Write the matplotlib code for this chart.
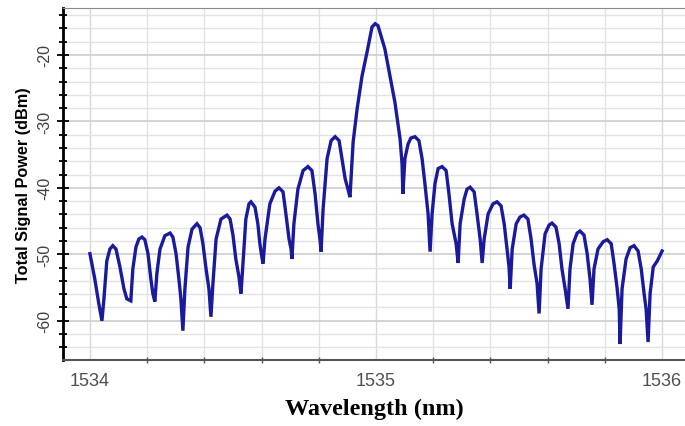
import numpy as np
import matplotlib.pyplot as plt
from matplotlib.ticker import MultipleLocator

# Wavelength (nm) and total signal power (dBm)
wavelength = [
    1534.000, 1534.017, 1534.031, 1534.042,
    1534.049, 1534.059, 1534.070, 1534.080, 1534.091, 1534.105, 1534.119, 1534.129, 1534.143,
    1534.150, 1534.161, 1534.171, 1534.182, 1534.192, 1534.203, 1534.213, 1534.220, 1534.227,
    1534.234, 1534.245, 1534.262, 1534.280, 1534.290, 1534.301, 1534.311, 1534.318, 1534.325,
    1534.332, 1534.343, 1534.357, 1534.374, 1534.385, 1534.395, 1534.406, 1534.416, 1534.423,
    1534.430, 1534.441, 1534.458, 1534.479, 1534.490, 1534.500, 1534.510, 1534.521, 1534.528,
    1534.535, 1534.545, 1534.556, 1534.563, 1534.577, 1534.587, 1534.594, 1534.601, 1534.605,
    1534.612, 1534.629, 1534.647, 1534.661, 1534.675, 1534.685, 1534.696, 1534.703, 1534.706,
    1534.713, 1534.727, 1534.745, 1534.762, 1534.776, 1534.787, 1534.797, 1534.804, 1534.808,
    1534.815, 1534.829, 1534.843, 1534.857, 1534.871, 1534.881, 1534.892, 1534.902, 1534.909,
    1534.920, 1534.934, 1534.951, 1534.969, 1534.986, 1534.997, 1535.007, 1535.031, 1535.049,
    1535.066, 1535.084, 1535.091, 1535.094,
    1535.101, 1535.112, 1535.122, 1535.136, 1535.150, 1535.161, 1535.171, 1535.182, 1535.189,
    1535.196, 1535.206, 1535.217, 1535.231, 1535.245, 1535.255, 1535.266, 1535.280, 1535.287,
    1535.294, 1535.308, 1535.318, 1535.329, 1535.343, 1535.353, 1535.364, 1535.371,
    1535.378, 1535.392, 1535.409, 1535.423, 1535.437, 1535.448, 1535.458, 1535.465, 1535.469,
    1535.476, 1535.490, 1535.503, 1535.517, 1535.531, 1535.542, 1535.552, 1535.563, 1535.570,
    1535.577, 1535.591, 1535.605, 1535.615, 1535.629, 1535.640, 1535.650, 1535.661, 1535.671,
    1535.678, 1535.689, 1535.703, 1535.713, 1535.727, 1535.738, 1535.748, 1535.755,
    1535.762, 1535.776, 1535.794, 1535.808, 1535.822, 1535.832, 1535.843, 1535.850, 1535.853,
    1535.860, 1535.874, 1535.888, 1535.902, 1535.916, 1535.927, 1535.937, 1535.944, 1535.951,
    1535.958, 1535.969, 1535.983, 1536.000,
]
power = [
    -49.9, -53.7, -57.4, -60.0,
    -56.7, -51.0, -49.2, -48.7, -49.2, -51.9, -55.2, -56.7, -57.0,
    -52.2, -48.9, -47.7, -47.4, -47.8, -49.9, -53.7, -55.9, -57.1,
    -52.9, -49.2, -47.2, -46.8, -47.4, -49.9, -53.7, -56.7, -61.5,
    -55.2, -48.9, -46.2, -45.4, -46.0, -48.4, -52.2, -55.2, -59.4,
    -54.4, -47.7, -44.7, -44.1, -44.7, -47.1, -50.7, -53.4, -55.9,
    -51.4, -44.7, -42.4, -42.1, -42.9, -45.4, -48.4, -50.4, -51.4,
    -47.7, -42.4, -40.5, -40.0, -40.6, -43.9, -47.7, -49.2, -50.7,
    -45.4, -40.2, -37.4, -36.8, -37.4, -40.9, -45.4, -47.7, -49.6,
    -43.2, -35.6, -32.9, -32.3, -32.9, -35.6, -38.6, -40.2, -41.4,
    -33.1, -28.1, -23.2, -19.5, -15.8, -15.3, -15.6, -19.1, -23.2,
    -27.1, -32.6, -36.4, -40.9,
    -35.6, -33.4, -32.5, -32.3, -32.9, -35.6, -39.4, -43.9, -49.6,
    -43.9, -39.4, -37.1, -36.8, -37.4, -40.9, -45.4, -48.4, -51.3,
    -45.4, -41.7, -40.2, -39.9, -40.6, -43.9, -47.7, -51.3,
    -47.7, -43.9, -42.4, -42.1, -42.7, -45.4, -49.2, -51.9, -55.2,
    -49.2, -45.4, -44.4, -44.1, -44.7, -47.7, -51.4, -54.4, -58.9,
    -52.2, -46.9, -45.6, -45.3, -45.9, -48.4, -52.2, -55.2, -58.2,
    -52.2, -48.4, -46.8, -46.5, -47.1, -49.9, -53.7, -57.6,
    -52.2, -49.2, -48.1, -47.8, -48.4, -51.4, -55.2, -58.2, -63.5,
    -55.2, -50.7, -49.0, -48.7, -49.5, -52.2, -55.9, -58.2, -63.2,
    -55.9, -51.9, -51.0, -49.5,
]
x_ticks = [1534, 1535, 1536]
y_ticks = [-60, -50, -40, -30, -20]

fig = plt.figure(figsize=(6.85, 4.27), dpi=100)
ax = fig.add_axes([0.092, 0.1546, 0.908, 0.8244])

# grid
ax.xaxis.set_minor_locator(MultipleLocator(0.2))
ax.yaxis.set_minor_locator(MultipleLocator(2))
ax.grid(which='minor', color='#e2e2e2', linewidth=1.0)
ax.grid(which='major', axis='y', color='#cdcdcd', linewidth=1.2)
ax.grid(which='major', axis='x', color='#d8d8d8', linewidth=1.0)
ax.set_axisbelow(True)

ax.plot(wavelength, power, color='#1a1a9c', linewidth=2.4, solid_joinstyle='miter')

ax.set_xlim(1533.906, 1536.080)
ax.set_ylim(-65.9, -12.93)
ax.set_xticks(x_ticks)
ax.set_yticks(y_ticks)
ax.set_xticklabels([str(t) for t in x_ticks], fontsize=13, color='#505050',
                   family='Liberation Sans')
ax.set_yticklabels([str(t) for t in y_ticks], fontsize=11.5, color='#404040',
                   rotation=90, va='center', family='Liberation Sans')

ax.tick_params(axis='y', which='major', direction='inout', length=9, width=1.3,
               color='black', pad=3)
ax.tick_params(axis='y', which='minor', direction='inout', length=6, width=1.3,
               color='black')
ax.tick_params(axis='x', which='major', direction='inout', length=0, pad=9)
ax.tick_params(axis='x', which='minor', direction='inout', length=4, width=1.0,
               color='#555555')

ax.spines['right'].set_visible(False)
ax.spines['left'].set_linewidth(2)
ax.spines['left'].set_color('black')
ax.spines['top'].set_linestyle((0, (1, 1)))
ax.spines['top'].set_color('#8a8a8a')
ax.spines['bottom'].set_linestyle((0, (1, 1)))
ax.spines['bottom'].set_color('#555555')
ax.spines['bottom'].set_linewidth(1.5)

ax.set_xlabel('Wavelength (nm)', fontsize=17.5, fontweight='bold',
              family='Liberation Serif', labelpad=6)
ax.set_ylabel('Total Signal Power (dBm)', fontsize=11.7, fontweight='bold',
              family='Liberation Sans', labelpad=5)

fig.savefig('out.png', dpi=100)
